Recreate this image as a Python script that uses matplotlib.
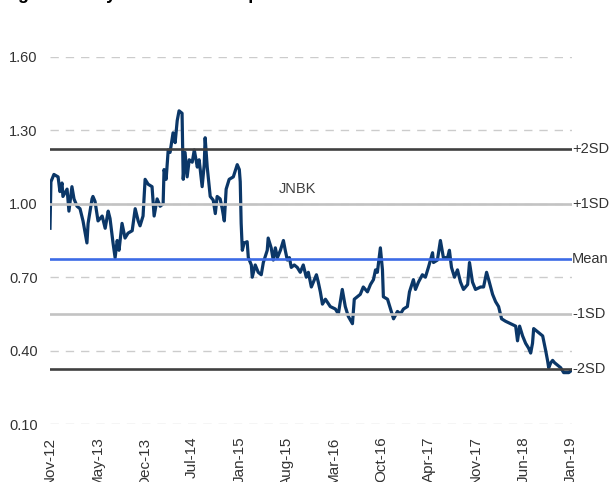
import pandas as pd
import matplotlib
matplotlib.use("Agg")
import matplotlib.pyplot as plt

plt.rcParams['font.family'] = ['Liberation Sans', 'DejaVu Sans']

# P/B history
dates = ['2012-11-01', '2012-11-05', '2012-11-18', '2012-12-06', '2012-12-14', '2012-12-23',
         '2012-12-27', '2013-01-14', '2013-01-22', '2013-02-04', '2013-02-13', '2013-02-26',
         '2013-03-11', '2013-03-24', '2013-04-10', '2013-04-15', '2013-05-02', '2013-05-06',
         '2013-05-15', '2013-05-28', '2013-06-15', '2013-06-28', '2013-07-11', '2013-07-19',
         '2013-08-01', '2013-08-10', '2013-08-19', '2013-08-27', '2013-09-09', '2013-09-22',
         '2013-10-05', '2013-10-23', '2013-11-05', '2013-11-18', '2013-11-26', '2013-12-09',
         '2013-12-18', '2013-12-31', '2014-01-17', '2014-01-26', '2014-02-08', '2014-02-21',
         '2014-03-06', '2014-03-10', '2014-03-19', '2014-03-28', '2014-04-05', '2014-04-18',
         '2014-04-27', '2014-05-06', '2014-05-14', '2014-05-27', '2014-06-01', '2014-06-09',
         '2014-06-18', '2014-06-27', '2014-07-10', '2014-07-19', '2014-08-01', '2014-08-09',
         '2014-08-22', '2014-08-31', '2014-09-04', '2014-09-13', '2014-09-26', '2014-10-09',
         '2014-10-18', '2014-10-26', '2014-11-08', '2014-11-17', '2014-11-26', '2014-12-04',
         '2014-12-17', '2015-01-04', '2015-01-21', '2015-01-30', '2015-02-03', '2015-02-07',
         '2015-02-12', '2015-02-20', '2015-03-05', '2015-03-10', '2015-03-23', '2015-03-27',
         '2015-04-09', '2015-04-22', '2015-05-05', '2015-05-14', '2015-05-31', '2015-06-04',
         '2015-06-17', '2015-06-26', '2015-07-05', '2015-07-14', '2015-07-27', '2015-08-09',
         '2015-08-17', '2015-08-26', '2015-09-04', '2015-09-12', '2015-09-25', '2015-10-08',
         '2015-10-21', '2015-11-03', '2015-11-16', '2015-11-25', '2015-12-08', '2015-12-17',
         '2015-12-30', '2016-01-07', '2016-01-16', '2016-01-25', '2016-02-07', '2016-02-28',
         '2016-03-21', '2016-04-03', '2016-04-20', '2016-05-03', '2016-05-16', '2016-06-03',
         '2016-06-11', '2016-06-24', '2016-07-07', '2016-07-20', '2016-08-07', '2016-08-20',
         '2016-09-02', '2016-09-11', '2016-09-19', '2016-10-02', '2016-10-11', '2016-10-15',
         '2016-11-02', '2016-11-15', '2016-11-28', '2016-12-15', '2016-12-28', '2017-01-10',
         '2017-01-27', '2017-02-05', '2017-02-22', '2017-03-03', '2017-03-16', '2017-04-02',
         '2017-04-15', '2017-04-28', '2017-05-16', '2017-05-20', '2017-06-06', '2017-06-19',
         '2017-07-02', '2017-07-20', '2017-07-28', '2017-08-06', '2017-08-19', '2017-09-01',
         '2017-09-14', '2017-09-27', '2017-10-15', '2017-10-23', '2017-11-05', '2017-11-18',
         '2017-12-10', '2017-12-23', '2018-01-05', '2018-01-14', '2018-01-31', '2018-02-13',
         '2018-02-26', '2018-03-11', '2018-03-28', '2018-04-19', '2018-05-11', '2018-05-19',
         '2018-05-28', '2018-06-10', '2018-06-23', '2018-07-06', '2018-07-15', '2018-07-23',
         '2018-07-28', '2018-08-10', '2018-08-23', '2018-09-05', '2018-09-18', '2018-09-26',
         '2018-10-01', '2018-10-10', '2018-10-18', '2018-10-27', '2018-11-09', '2018-11-22',
         '2018-12-05', '2018-12-18', '2018-12-27', '2019-01-09']
pb = [0.90, 1.09, 1.12, 1.11, 1.05, 1.085,
      1.03, 1.06, 0.97, 1.07, 1.02, 0.99,
      0.98, 0.93, 0.84, 0.92, 1.02, 1.03,
      1.01, 0.93, 0.95, 0.90, 0.97, 0.94,
      0.84, 0.78, 0.85, 0.81, 0.92, 0.86,
      0.88, 0.89, 0.98, 0.93, 0.91, 0.95,
      1.10, 1.08, 1.07, 0.95, 1.02, 0.99,
      1.00, 1.14, 1.10, 1.22, 1.21, 1.29,
      1.25, 1.34, 1.38, 1.37, 1.10, 1.21,
      1.11, 1.18, 1.17, 1.22, 1.15, 1.18,
      1.07, 1.16, 1.27, 1.15, 1.03, 1.015,
      0.96, 1.03, 1.02, 0.98, 0.93, 1.06,
      1.10, 1.11, 1.16, 1.14, 1.09, 0.92,
      0.81, 0.84, 0.845, 0.78, 0.75, 0.70,
      0.75, 0.72, 0.71, 0.76, 0.81, 0.86,
      0.82, 0.77, 0.82, 0.78, 0.81, 0.85,
      0.81, 0.77, 0.78, 0.74, 0.75, 0.74,
      0.72, 0.75, 0.70, 0.72, 0.66, 0.68,
      0.71, 0.68, 0.64, 0.59, 0.61, 0.58,
      0.57, 0.55, 0.65, 0.58, 0.54, 0.51,
      0.61, 0.62, 0.63, 0.66, 0.64, 0.67,
      0.69, 0.73, 0.72, 0.82, 0.73, 0.62,
      0.61, 0.57, 0.53, 0.56, 0.55, 0.57,
      0.58, 0.64, 0.69, 0.65, 0.68, 0.71,
      0.70, 0.74, 0.80, 0.76, 0.77, 0.85,
      0.78, 0.78, 0.81, 0.74, 0.70, 0.73,
      0.68, 0.65, 0.67, 0.76, 0.68, 0.65,
      0.66, 0.66, 0.72, 0.69, 0.63, 0.60,
      0.58, 0.53, 0.52, 0.51, 0.50, 0.44,
      0.50, 0.46, 0.43, 0.41, 0.39, 0.43,
      0.49, 0.48, 0.47, 0.46, 0.40, 0.36,
      0.33, 0.35, 0.36, 0.35, 0.34, 0.33,
      0.31, 0.31, 0.31, 0.32]

mean_pb = 0.775
sd_pb = 0.225
band_labels = ['+2SD', '+1SD', 'Mean', '-1SD', '-2SD']
band_mult = [2, 1, 0, -1, -2]
band_colors = ['#404040', '#c3c3c3', '#3d6be6', '#c3c3c3', '#404040']

yticks = [0.10, 0.40, 0.70, 1.00, 1.30, 1.60]
tick_start = pd.Timestamp('2012-11-01')
tick_step_days = 205
n_ticks = 12

x = pd.to_datetime(dates)

fig = plt.figure(figsize=(6.11, 4.82), dpi=100)
ax = fig.add_axes([50 / 611, 1 - 424 / 482, 522 / 611, 367 / 482])

ax.plot(x, pb, color='#0b3768', lw=2.3, zorder=3)

for lab, m, c in zip(band_labels, band_mult, band_colors):
    lvl = mean_pb + m * sd_pb
    ax.axhline(lvl, color=c, lw=1.9, zorder=4)
    ax.text(1.0, lvl, lab, transform=ax.get_yaxis_transform(), ha='left', va='center',
            fontsize=10.5, color='#333333')

ax.text(pd.Timestamp('2015-10-08'), 1.06, 'JNBK', ha='center', va='center',
        fontsize=10.5, color='#404040')

ax.set_ylim(0.10, 1.60)
ax.set_yticks(yticks)
ax.set_yticklabels(['%.2f' % v for v in yticks])
ax.set_xlim(tick_start, pd.Timestamp('2019-01-10'))
ticks = [tick_start + pd.Timedelta(days=tick_step_days * k) for k in range(n_ticks)]
ax.set_xticks(ticks)
ax.set_xticklabels([t.strftime('%b-%y') for t in ticks], rotation=90)

ax.yaxis.grid(True, color='#cccccc', lw=1.0, linestyle=(0, (6, 5)))
ax.set_axisbelow(True)
ax.tick_params(length=0, labelsize=10.5, labelcolor='#333333')
ax.tick_params(axis='y', pad=9)
ax.tick_params(axis='x', pad=9, labelsize=11)
for s in ax.spines.values():
    s.set_visible(False)

fig.text(0.004, 1 + 1 / 482, 'Figure 3: Key valuation multiple bands', fontsize=13,
         fontweight='bold', va='baseline', ha='left')

fig.savefig('out.png', dpi=100)
